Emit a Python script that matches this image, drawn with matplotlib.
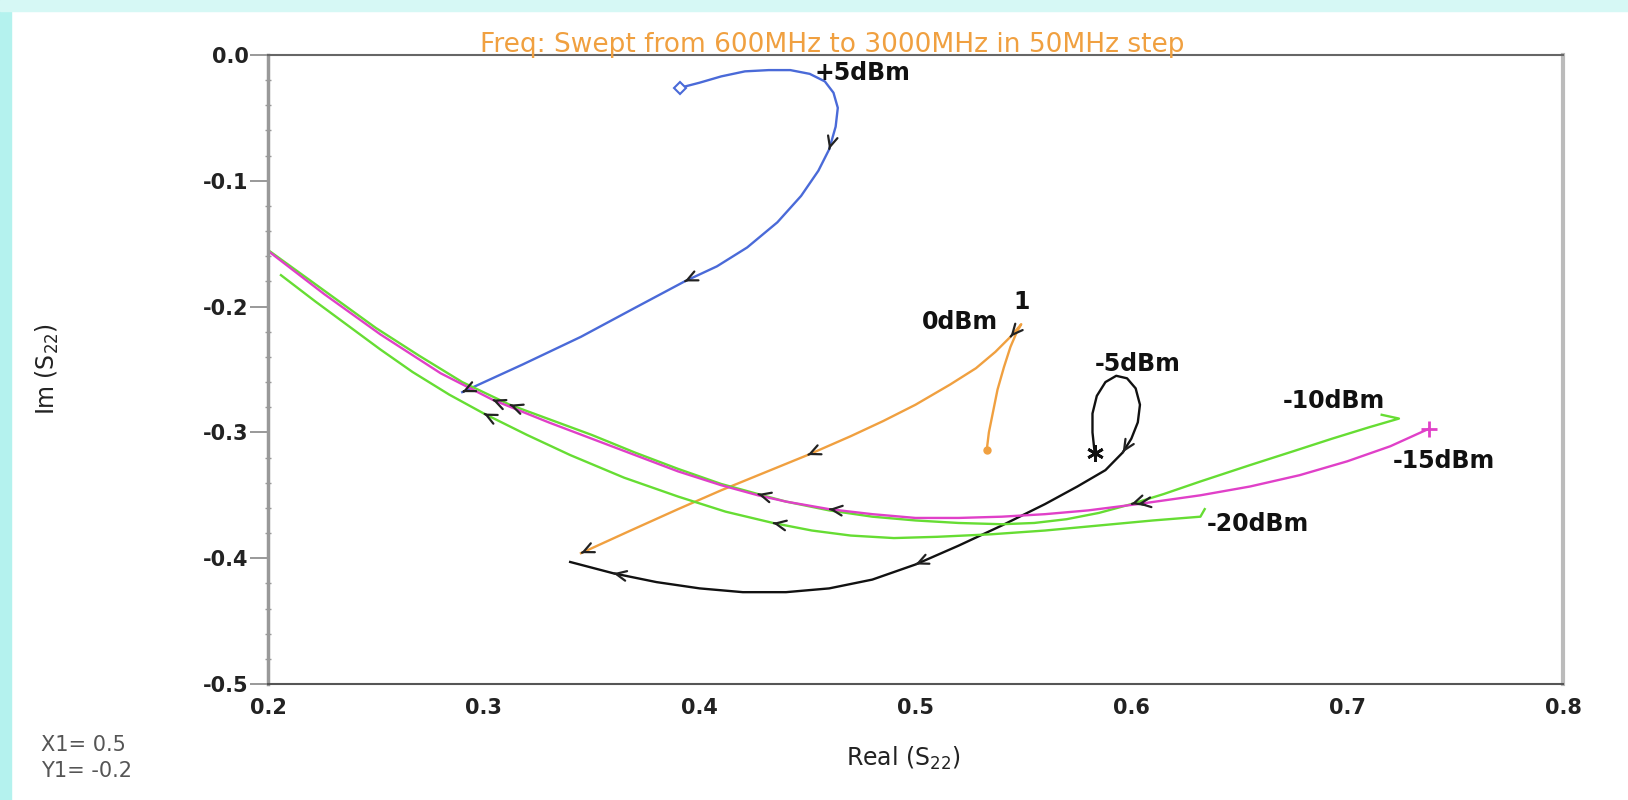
import numpy as np
import matplotlib.pyplot as plt
from matplotlib.patches import Rectangle

# S22 traces (real, imag), in sweep order
p5_re = [0.391, 0.400, 0.410, 0.421, 0.432, 0.442, 0.451, 0.458, 0.462, 0.464, 0.463, 0.460, 0.455, 0.447,
         0.436, 0.422, 0.408, 0.393, 0.370, 0.345, 0.318, 0.290]
p5_im = [-0.026, -0.022, -0.017, -0.013, -0.012, -0.012, -0.015, -0.021, -0.030, -0.042, -0.057, -0.075, -0.092, -0.112,
         -0.133, -0.153, -0.168, -0.180, -0.201, -0.224, -0.246, -0.268]

m0_re = [0.533, 0.534, 0.536, 0.538, 0.541, 0.544, 0.547, 0.549, 0.544, 0.537, 0.528, 0.516, 0.500, 0.485,
         0.470, 0.450, 0.430, 0.410, 0.390, 0.368, 0.345]
m0_im = [-0.314, -0.300, -0.283, -0.266, -0.248, -0.232, -0.220, -0.214, -0.224, -0.236, -0.249, -0.262, -0.278, -0.291,
         -0.303, -0.318, -0.332, -0.346, -0.361, -0.378, -0.396]

m5_re = [0.583, 0.582, 0.582, 0.584, 0.588, 0.593, 0.598, 0.602, 0.604, 0.603, 0.600, 0.596, 0.588, 0.575,
         0.560, 0.540, 0.520, 0.500, 0.480, 0.460, 0.440, 0.420, 0.400, 0.380, 0.360, 0.340]
m5_im = [-0.316, -0.300, -0.285, -0.271, -0.260, -0.255, -0.257, -0.265, -0.278, -0.292, -0.305, -0.316, -0.330, -0.343,
         -0.357, -0.374, -0.390, -0.405, -0.417, -0.424, -0.427, -0.427, -0.424, -0.419, -0.412, -0.403]

m10_re = [0.716, 0.724, 0.710, 0.693, 0.675, 0.655, 0.632, 0.615, 0.600, 0.585, 0.570, 0.555, 0.540, 0.520,
          0.500, 0.480, 0.460, 0.440, 0.427, 0.410, 0.390, 0.370, 0.350, 0.331, 0.312, 0.290, 0.270, 0.250,
          0.225, 0.200]
m10_im = [-0.286, -0.289, -0.296, -0.305, -0.315, -0.326, -0.339, -0.349, -0.357, -0.364, -0.369, -0.372, -0.373, -0.372,
          -0.370, -0.367, -0.362, -0.355, -0.349, -0.341, -0.329, -0.316, -0.302, -0.290, -0.278, -0.260, -0.239, -0.217,
          -0.186, -0.155]

m15_re = [0.738, 0.720, 0.700, 0.678, 0.655, 0.632, 0.603, 0.580, 0.560, 0.540, 0.520, 0.500, 0.480, 0.460,
          0.440, 0.427, 0.410, 0.390, 0.370, 0.350, 0.330, 0.304, 0.280, 0.252, 0.226, 0.201]
m15_im = [-0.297, -0.311, -0.323, -0.334, -0.343, -0.350, -0.357, -0.362, -0.365, -0.367, -0.368, -0.368, -0.365, -0.361,
          -0.355, -0.350, -0.342, -0.331, -0.318, -0.305, -0.292, -0.274, -0.253, -0.222, -0.190, -0.157]

m20_re = [0.634, 0.632, 0.610, 0.585, 0.560, 0.535, 0.510, 0.490, 0.470, 0.452, 0.434, 0.412, 0.390, 0.365,
          0.340, 0.320, 0.300, 0.284, 0.267, 0.252, 0.237, 0.222, 0.206]
m20_im = [-0.361, -0.367, -0.370, -0.374, -0.378, -0.381, -0.383, -0.384, -0.382, -0.378, -0.372, -0.363, -0.351, -0.336,
          -0.318, -0.302, -0.285, -0.270, -0.252, -0.234, -0.215, -0.196, -0.175]

xticks = [0.2, 0.3, 0.4, 0.5, 0.6, 0.7, 0.8]
yticks = [0.0, -0.1, -0.2, -0.3, -0.4, -0.5]
xtick_labels = ['0.2', '0.3', '0.4', '0.5', '0.6', '0.7', '0.8']
ytick_labels = ['0.0', '-0.1', '-0.2', '-0.3', '-0.4', '-0.5']

# (x, y, color, start marker, indices where a direction arrow sits)
traces = [
    (p5_re, p5_im, '#4a6ad8', 'D', [11, 17, 21]),
    (m0_re, m0_im, '#f0a040', 's', [8, 15, 20]),
    (m5_re, m5_im, '#111111', (6, 2, 0), [11, 17, 24]),
    (m10_re, m10_im, '#66dd33', None, [8, 18, 24]),
    (m15_re, m15_im, '#e040c8', '+', [6, 13, 21]),
    (m20_re, m20_im, '#66dd33', None, [10, 16]),
]

fig = plt.figure(figsize=(16.28, 8.0), dpi=100)
fig.patches.append(Rectangle((0, 0), 11 / 1628, 1, transform=fig.transFigure, color='#b4f2ee', zorder=-1))
fig.patches.append(Rectangle((0, 1 - 11 / 800), 1, 11 / 800, transform=fig.transFigure, color='#d6f8f5', zorder=-1))

ax = fig.add_axes([268 / 1628, 1 - 684 / 800, (1563 - 268) / 1628, (684 - 55) / 800])

for xs, ys, col, mk, arr in traces:
    ax.plot(xs, ys, color=col, lw=1.7, solid_joinstyle='round')
    if mk == 'D':
        ax.plot(xs[0], ys[0], marker='D', ms=6, mfc='white', mec=col, mew=1.5)
    elif mk == 's':
        ax.plot(xs[0], ys[0], marker='o', ms=5, color=col)
    elif mk == '+':
        ax.plot(xs[0], ys[0], marker='+', ms=11, mew=2, color=col)
    elif mk is not None:
        ax.plot(xs[0], ys[0], marker=mk, ms=12, mew=2, color=col)
    for i in arr:
        dx = xs[i] - xs[i - 1]
        dy = ys[i] - ys[i - 1]
        ax.annotate('', xy=(xs[i], ys[i]), xytext=(xs[i] - 0.02 * dx, ys[i] - 0.02 * dy),
                    arrowprops=dict(arrowstyle='->,head_length=0.75,head_width=0.35',
                                    color='#222222', lw=1.6, shrinkA=0, shrinkB=0))

ax.set_xlim(0.2, 0.8)
ax.set_ylim(-0.5, 0.0)
ax.set_xticks(xticks)
ax.set_xticklabels(xtick_labels)
ax.set_yticks(yticks)
ax.set_yticklabels(ytick_labels)
ax.set_yticks(np.arange(-0.5, 0.001, 0.02), minor=True)
for lab in ax.get_xticklabels() + ax.get_yticklabels():
    lab.set_fontweight('bold')
    lab.set_fontsize(15)
    lab.set_color('#222222')
ax.tick_params(axis='x', length=0, pad=10)
ax.tick_params(axis='y', which='major', length=13, width=1.2, color='#888888', pad=1, direction='out')
ax.tick_params(axis='y', which='minor', length=4, width=1.0, color='#999999', direction='inout')

ax.spines['left'].set_color('#999999')
ax.spines['left'].set_linewidth(2.5)
ax.spines['right'].set_color('#bbbbbb')
ax.spines['right'].set_linewidth(3)
ax.spines['top'].set_color('#666666')
ax.spines['top'].set_linewidth(1.5)
ax.spines['bottom'].set_color('#555555')
ax.spines['bottom'].set_linewidth(1.5)

# title sits right on the top border
ax.text(0.436, 1.005, 'Freq: Swept from 600MHz to 3000MHz in 50MHz step', transform=ax.transAxes,
        ha='center', va='baseline', fontsize=19, color='#f0a040')

lbl = dict(fontsize=17, fontweight='bold', color='#111111', va='center')
ax.text(0.453, -0.014, '+5dBm', ha='left', **lbl)
ax.text(0.538, -0.212, '0dBm', ha='right', **lbl)
ax.text(0.549, -0.196, '1', ha='center', **lbl)
ax.text(0.583, -0.246, '-5dBm', ha='left', **lbl)
ax.text(0.670, -0.275, '-10dBm', ha='left', **lbl)
ax.text(0.721, -0.323, '-15dBm', ha='left', **lbl)
ax.text(0.635, -0.373, '-20dBm', ha='left', **lbl)

fig.text(0.555, 0.052, 'Real (S$_{22}$)', ha='center', va='center', fontsize=17, color='#222222')
fig.text(0.029, 0.539, 'Im (S$_{22}$)', ha='center', va='center', rotation=90, fontsize=17, color='#222222')
fig.text(0.025, 1 - 745 / 800, 'X1= 0.5', ha='left', va='center', fontsize=15, color='#555555')
fig.text(0.025, 1 - 771 / 800, 'Y1= -0.2', ha='left', va='center', fontsize=15, color='#555555')

plt.savefig('out.png', dpi=100)
